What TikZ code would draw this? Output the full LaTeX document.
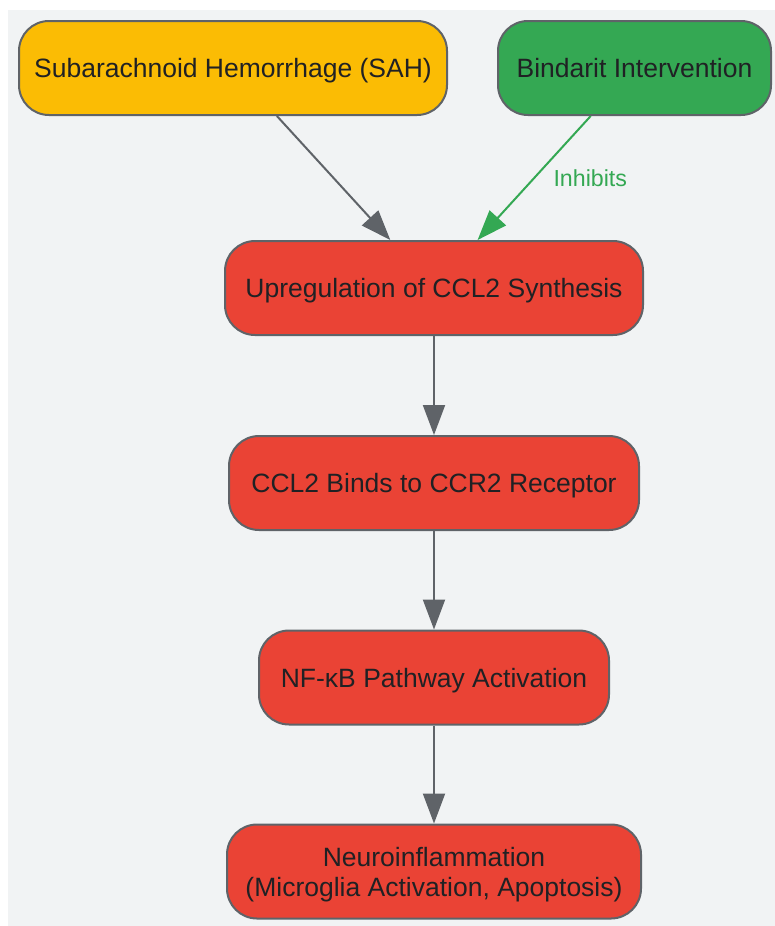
\documentclass[tikz,border=0pt]{standalone}
\usepackage{fontspec}
\setmainfont{Liberation Sans}
\usetikzlibrary{arrows.meta}
\usetikzlibrary{positioning}

\definecolor{sahyellow}{HTML}{FBBC04}
\definecolor{druggreen}{HTML}{34A853}
\definecolor{pathred}{HTML}{EA4335}
\definecolor{edgegray}{HTML}{5F6368}
\definecolor{bggray}{HTML}{F1F3F4}
\definecolor{textdark}{HTML}{202124}

\begin{document}
\begin{tikzpicture}[x=1pt,y=-1pt,
            main node/.style={rectangle,rounded corners=30pt,draw=edgegray,line width=2pt,
                minimum height=94pt,inner sep=0pt,align=center,text=textdark,
                text height=19pt,text depth=0pt,
                font=\fontsize{26.5}{30}\selectfont},
            main edge/.style={draw=edgegray,line width=2pt,-{Triangle[length=30pt,width=22pt]}},
            ]
            
            \useasboundingbox (0,0) rectangle (775,926);
            \fill[bggray] (8,10) rectangle (775,926);
            
            \node[main node, fill=sahyellow, minimum width=428pt] (1) at (233,68) {Subarachnoid Hemorrhage (SAH)};
            \node[main node, fill=druggreen, minimum width=273pt] (2) at (634.5,68) {Bindarit Intervention};
            
            \node[main node, fill=pathred, minimum width=418pt] (3) at (434,288) {Upregulation of CCL2 Synthesis};
            \node[main node, fill=pathred, minimum width=410pt] (4) at (434,483) {CCL2 Binds to CCR2 Receptor};
            \node[main node, fill=pathred, minimum width=350pt] (5) at (434,677.5) {NF-κB Pathway Activation};
            \node[main node, fill=pathred, minimum width=414pt, text height=49pt] (6) at (434,871.5) {Neuroinflammation\\(Microglia Activation, Apoptosis)};
            
            \draw[main edge] (1) -- (3);
            \draw[main edge, draw=druggreen, -{Triangle[length=30pt,width=22pt,fill=druggreen]}] (2) -- node[right=15pt, text=druggreen, text height=16.6pt, text depth=0pt, font=\fontsize{23.2}{28}\selectfont] (7) {Inhibits} (3);
            \draw[main edge] (3) -- (4);
            \draw[main edge] (4) -- (5);
            \draw[main edge] (5) -- (6);
        \end{tikzpicture}
\end{document}
